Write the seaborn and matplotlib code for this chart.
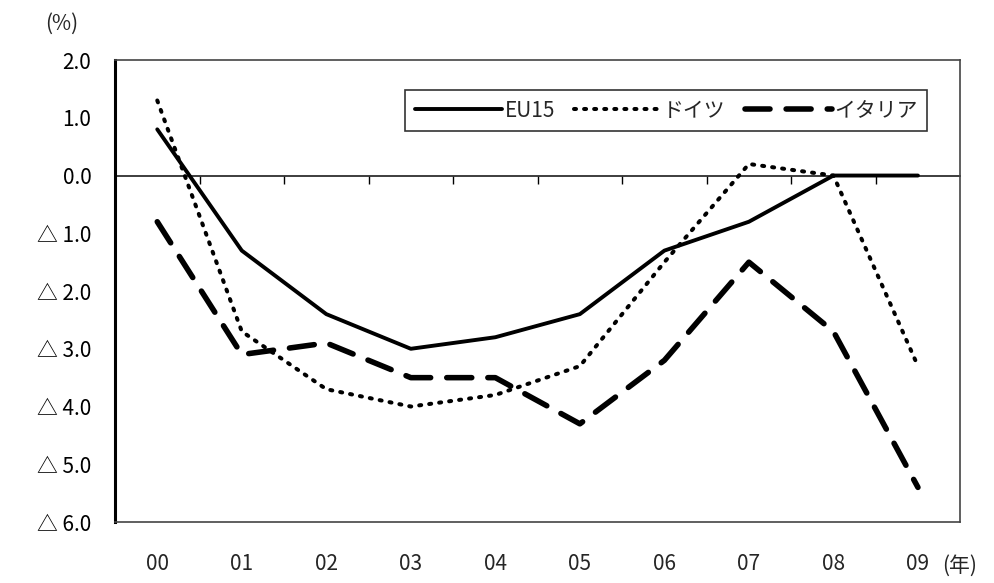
import numpy as np
import pandas as pd
import matplotlib
matplotlib.use('Agg')
import matplotlib.pyplot as plt
import seaborn as sns

# data
years = ['00', '01', '02', '03', '04', '05', '06', '07', '08', '09']
eu15 = [0.8, -1.3, -2.4, -3.0, -2.8, -2.4, -1.3, -0.8, 0.0, 0.0]
germany = [1.3, -2.7, -3.7, -4.0, -3.8, -3.3, -1.5, 0.2, 0.0, -3.3]
italy = [-0.8, -3.1, -2.9, -3.5, -3.5, -4.3, -3.2, -1.5, -2.7, -5.4]
series_names = ['EU15', 'ドイツ', 'イタリア']
yticks = [2, 1, 0, -1, -2, -3, -4, -5, -6]

sns.set_theme(style='white')
plt.rcParams['font.family'] = ['Noto Sans CJK JP', 'DejaVu Sans']

df = pd.DataFrame({
    'x': list(range(len(years))) * 3,
    'value': eu15 + germany + italy,
    'series': [s for s in series_names for _ in years],
})

styles = {
    'EU15': dict(linestyle='-', linewidth=2.8),
    'ドイツ': dict(linestyle=(0, (0.5, 2.0)), linewidth=2.9, dash_capstyle='round'),
    'イタリア': dict(linestyle=(0, (4.5, 2.9)), linewidth=4.0, dash_capstyle='round'),
}

fig = plt.figure(figsize=(9.94, 5.83), dpi=100)
ax = fig.add_axes([0.1157, 0.1046, 0.8503, 0.7924])

for name in series_names:
    sub = df[df['series'] == name]
    sns.lineplot(data=sub, x='x', y='value', ax=ax, color='black',
                 label=name, **styles[name])

ax.set_xlim(-0.5, 9.5)
ax.set_ylim(-6, 2)
ax.set_xlabel('')
ax.set_ylabel('')

# x labels far below the box, no tick marks
ax.set_xticks(range(len(years)))
ax.set_xticklabels(years, fontsize=15)
ax.tick_params(axis='x', length=0, pad=22)
fig.text(0.948, 1 - 566 / 583, '(年)', fontsize=15, ha='left', va='center')

# y labels with triangle for negatives
ax.set_yticks(yticks)
ax.set_yticklabels([f'{v:.1f}' if v >= 0 else f'△ {abs(v):.1f}' for v in yticks],
                   fontsize=15)
ax.tick_params(axis='y', direction='in', length=7, width=1, pad=17, colors='black')
fig.text(0.062, 1 - 24 / 583, '(%)', fontsize=15, ha='center', va='center')

# zero line with upward ticks at category boundaries
zero_pos = (0 - (-6)) / (2 - (-6))
sec = ax.secondary_xaxis(zero_pos)
sec.set_xticks(np.arange(len(years) - 1) + 0.5)
sec.set_xticklabels([])
sec.tick_params(axis='x', direction='in', length=6, width=1, colors='black')
sec.spines['bottom'].set_linewidth(1.2)
sec.spines['bottom'].set_color('black')

for side in ['top', 'right', 'bottom']:
    ax.spines[side].set_color('#444444')
    ax.spines[side].set_linewidth(1.2)
ax.spines['left'].set_color('black')
ax.spines['left'].set_linewidth(2.2)

leg = ax.legend(loc='upper right', bbox_to_anchor=(0.973, 0.957), ncol=3,
                fontsize=15, frameon=True, fancybox=False, handlelength=4.2,
                handletextpad=0.1, columnspacing=0.9, borderpad=0.45)
leg.get_frame().set_edgecolor('black')
leg.get_frame().set_linewidth(1.2)

plt.savefig('out.png', dpi=100)
plt.close()
